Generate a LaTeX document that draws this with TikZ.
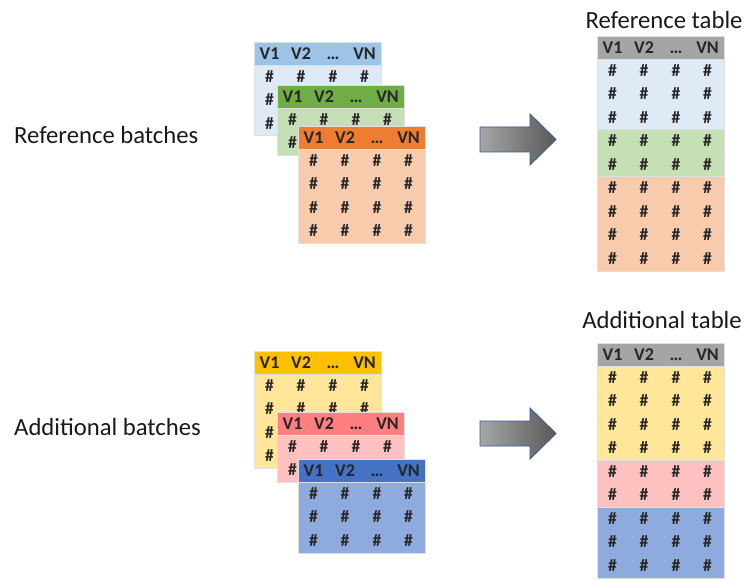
\documentclass[tikz,border=0pt]{standalone}
\usepackage{fontspec}
\setmainfont{Carlito}
\definecolor{hBlueL}{HTML}{9DC3E6}
\definecolor{bBlueL}{HTML}{DEEBF7}
\definecolor{hGreen}{HTML}{70AD47}
\definecolor{bGreen}{HTML}{C5E0B4}
\definecolor{hOrange}{HTML}{ED7D31}
\definecolor{bOrange}{HTML}{F8CBAD}
\definecolor{hGray}{HTML}{A5A5A5}
\definecolor{hYellow}{HTML}{FFC000}
\definecolor{bYellow}{HTML}{FFE699}
\definecolor{hPink}{HTML}{FF7F80}
\definecolor{bPink}{HTML}{FFC0C0}
\definecolor{hBlueD}{HTML}{4472C4}
\definecolor{bBlueD}{HTML}{8FAADC}
\definecolor{arrL}{HTML}{A6A6A6}
\definecolor{arrR}{HTML}{595959}
\definecolor{arrB}{HTML}{3A5A96}
\tikzset{
  hdbox/.style={rectangle, anchor=north west, inner sep=0pt, minimum width=127pt, minimum height=23pt, draw=black!12, line width=0.5pt},
  bdbox/.style={rectangle, anchor=north west, inner sep=0pt, minimum width=127pt, draw=black!12, line width=0.5pt},
  hdtxt/.style={anchor=base, inner sep=0pt, font=\fontsize{18}{20}\selectfont\bfseries, text=black!85},
  celltxt/.style={anchor=base, inner sep=0pt, font=\fontsize{17.5}{20}\selectfont\bfseries, text=black!85},
  lbl/.style={inner sep=0pt, font=\fontsize{24.7}{28}\selectfont, text=black!90},
  blockarrow/.style={left color=arrL, right color=arrR, draw=arrB, line width=0.9pt, line join=miter}
}
\newcommand{\thead}[4]{%
  \node[hdbox, fill=#4] (#1) at (#2,#3) {};
  \node[hdtxt] (#1-1) at (#2+15.5,#3+17.2) {V1};
  \node[hdtxt] (#1-2) at (#2+47,#3+17.2) {V2};
  \node[hdtxt] (#1-3) at (#2+79,#3+17.2) {…};
  \node[hdtxt] (#1-4) at (#2+110.5,#3+17.2) {VN};
}
% name, x, y, rows, colour, rows shown in full (later rows show only their first cell)
\newcommand{\tbody}[6]{%
  \node[bdbox, fill=#5, minimum height=#4*23.5pt] (#1) at (#2,#3) {};
  \foreach \r in {1,...,#4} {
    \node[celltxt] (#1-\r-1) at (#2+15.5,#3+\r*23.5-6.25) {\#};
    \ifnum\r>#6\relax\else
      \node[celltxt] (#1-\r-2) at (#2+47,#3+\r*23.5-6.25) {\#};
      \node[celltxt] (#1-\r-3) at (#2+79,#3+\r*23.5-6.25) {\#};
      \node[celltxt] (#1-\r-4) at (#2+110.5,#3+\r*23.5-6.25) {\#};
    \fi
  }
}
\begin{document}
\begin{tikzpicture}[x=1pt,y=-1pt]
\useasboundingbox (0,0) rectangle (746,580);
% labels
\node[lbl, anchor=base west] (lref) at (14,144) {Reference batches};
\node[lbl, anchor=base west] (ladd) at (14,435) {Additional batches};
\node[lbl, anchor=base] (tref) at (664,29) {Reference table};
\node[lbl, anchor=base] (tadd) at (662,328) {Additional table};
% reference batches
\thead{b1h}{254}{42}{hBlueL}
\tbody{b1b}{254}{65}{3}{bBlueL}{1}
\thead{b2h}{277}{85}{hGreen}
\tbody{b2b}{277}{108}{2}{bGreen}{1}
\thead{b3h}{298}{126}{hOrange}
\tbody{b3b}{298}{149}{4}{bOrange}{4}
% additional batches
\thead{a1h}{254}{351}{hYellow}
\tbody{a1b}{254}{374}{4}{bYellow}{2}
\thead{a2h}{277}{412}{hPink}
\tbody{a2b}{277}{435}{2}{bPink}{1}
\thead{a3h}{298}{459}{hBlueD}
\tbody{a3b}{298}{482}{3}{bBlueD}{3}
% reference table
\thead{rth}{597}{36}{hGray}
\tbody{rt1}{597}{59}{3}{bBlueL}{3}
\tbody{rt2}{597}{129.5}{2}{bGreen}{2}
\tbody{rt3}{597}{176.5}{4}{bOrange}{4}
% additional table
\thead{ath}{597}{343}{hGray}
\tbody{at1}{597}{366}{4}{bYellow}{4}
\tbody{at2}{597}{460}{2}{bPink}{2}
\tbody{at3}{597}{507}{3}{bBlueD}{3}
% arrows
\shade[blockarrow] (480,127) -- (530,127) -- (530,114) -- (556,139.5) -- (530,165) -- (530,152) -- (480,152) -- cycle;
\shade[blockarrow] (480,421) -- (530,421) -- (530,408) -- (556,433.5) -- (530,459) -- (530,446) -- (480,446) -- cycle;
\end{tikzpicture}
\end{document}
